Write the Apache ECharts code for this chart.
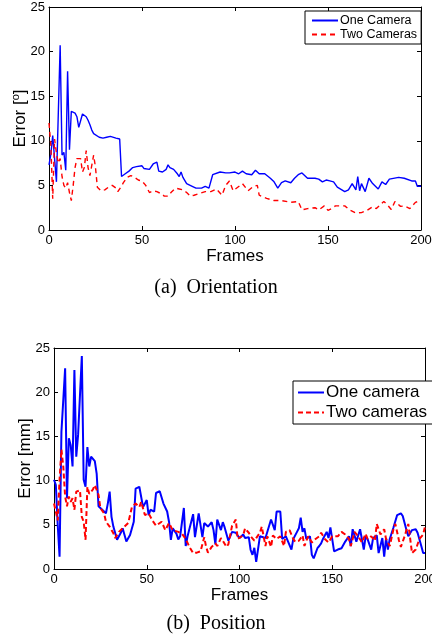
<!DOCTYPE html>
<html>
<head>
<meta charset="utf-8">
<script src="https://cdn.jsdelivr.net/npm/echarts@6/dist/echarts.min.js"></script>
<style>
  html, body { margin: 0; padding: 0; background: #fff; }
  #chart { width: 432px; height: 639px; }
</style>
</head>
<body>
<div id="chart"></div>
<script>
// (a) Orientation - one camera
var oriOneF = [0,1,2,3,4,5,6,7,8,9,10,11,12,13,14,15,16,17,18,19,20,21,22,23,24,25,27,29,30,31,33,34,36,38,39,40,41,43,45,47,48,50,51,52,54,56,57,58,59,61,63,64,65,67,69,70,71,72,74,77,79,82,84,86,87,88,89,92,95,97,100,102,104,106,109,111,113,116,119,121,123,125,127,130,132,134,136,139,143,145,147,149,151,153,155,159,161,163,165,166,167,168,170,172,174,177,179,181,183,188,191,195,197,198,200];
var oriOneV = [7.3,8.5,10.6,8.0,5.4,5.5,20.7,8.4,8.7,6.7,17.8,9.0,13.3,13.3,13.1,12.7,11.5,11.7,13.0,12.8,12.7,12.3,11.8,11.2,10.8,10.6,10.4,10.3,10.5,10.4,10.5,10.6,10.3,10.2,6.0,6.0,6.3,6.6,7.0,7.1,7.0,7.2,6.9,7.0,6.8,7.4,7.6,7.6,6.6,6.5,6.8,7.3,7.0,6.8,6.3,6.0,6.5,5.9,5.2,4.9,4.7,4.7,4.9,4.7,4.5,6.2,6.0,6.5,6.4,6.4,6.5,6.3,6.6,6.3,6.2,6.7,6.3,6.3,5.8,5.4,4.7,5.3,5.5,5.3,5.8,6.2,6.4,5.8,5.8,5.7,5.4,5.6,5.5,5.4,4.8,4.3,4.5,5.2,4.5,6.0,4.4,5.2,4.3,5.8,5.2,4.6,5.4,5.1,5.7,5.9,5.8,5.5,5.5,4.9,4.9];

// (a) Orientation - two cameras
var oriTwoF = [0,1,2,3,4,5,6,7,8,9,10,11,12,13,14,15,16,17,18,19,20,21,22,23,24,25,26,27,28,29,30,32,34,36,37,38,40,42,44,46,48,50,52,54,56,58,60,62,64,66,68,70,72,74,76,78,81,84,87,90,93,95,97,99,100,104,107,110,112,113,117,121,125,130,134,136,139,143,145,148,150,152,154,159,162,165,168,171,174,176,180,182,184,186,189,191,194,197,200];
var oriTwoV = [12.0,9.5,3.5,10.2,8.6,7.5,8.0,6.0,5.0,4.7,5.3,4.2,3.3,5.0,7.0,8.0,8.1,8.0,6.5,7.0,8.9,7.0,6.1,6.2,8.4,7.0,4.8,4.6,4.4,4.3,4.5,4.8,5.0,4.7,4.3,4.6,5.3,5.9,6.1,5.9,5.6,5.5,5.0,4.2,4.4,4.3,4.1,3.8,3.8,4.3,4.7,4.6,4.5,4.2,3.8,3.9,4.1,4.3,4.3,4.6,3.9,5.0,5.5,4.4,4.6,5.2,4.4,4.9,5.0,3.9,3.55,3.3,3.3,3.1,3.2,2.25,2.4,2.5,2.25,2.7,2.2,2.4,2.7,2.7,2.2,1.9,1.95,2.2,2.6,2.4,3.2,2.8,2.3,3.2,2.65,2.7,2.4,3.1,3.3];

// (b) Position - one camera
var posOneF = [0,1,2,3,4,5,6,7,8,9,10,11,12,13,14,15,16,17,18,19,20,21,22,23,24,26,28,29,30,31,32,34,36,37,39,41,43,44,46,48,50,51,52,54,55,57,59,61,62,63,64,66,67,68,70,71,72,75,76,78,80,81,82,83,85,86,87,88,90,91,92,94,95,96,98,99,100,102,103,105,106,107,108,109,111,112,114,115,117,119,120,122,123,125,126,128,129,131,132,133,134,135,136,138,139,140,142,143,144,145,147,148,149,150,151,153,155,157,159,160,161,163,164,165,167,168,169,171,172,174,175,177,178,179,180,181,183,185,187,188,190,191,193,195,196,198,199,200];
var posOneV = [10.1,9.5,5.0,1.4,15.5,15.5,22.7,8.0,14.8,14.0,11.6,22.5,12.7,15.2,15.0,24.1,10.1,9.3,13.8,11.6,12.7,12.7,12.2,10.8,7.1,6.7,6.3,7.4,8.75,5.9,4.8,3.3,4.1,4.6,3.1,3.85,5.35,9.1,9.3,7.0,7.8,6.1,6.7,6.5,8.6,8.8,7.4,6.5,5.35,3.3,4.6,4.0,3.35,3.7,6.9,2.6,3.7,6.2,3.6,6.3,3.6,5.2,5.3,4.8,5.3,4.4,2.8,5.6,4.4,5.3,4.7,3.2,3.7,4.2,4.1,4.0,3.5,3.9,3.5,3.6,2.15,1.6,2.4,0.8,3.7,3.7,3.5,3.7,5.6,4.4,6.5,6.5,3.4,3.7,3.5,2.2,3.4,4.2,4.6,5.8,4.2,4.6,3.4,3.7,1.6,1.2,2.35,2.6,2.9,3.4,4.2,3.5,4.7,4.9,2.0,2.2,2.35,3.1,3.7,2.6,4.5,3.1,2.9,4.5,2.2,3.7,3.4,2.2,3.5,3.8,1.8,3.5,1.4,3.5,2.2,3.4,4.7,6.1,6.3,6.0,4.4,3.7,4.4,4.5,4.1,2.6,1.8,1.8];

// (b) Position - two cameras
var posTwoF = [0,1,2,3,4,5,6,7,8,9,10,11,12,14,15,16,17,18,19,21,22,24,25,27,28,30,32,33,35,37,38,40,42,44,46,47,49,51,53,55,56,58,60,62,64,65,67,69,71,73,75,77,79,81,82,83,85,87,88,90,91,93,94,96,98,99,100,102,103,105,106,108,109,111,112,114,115,117,118,120,122,124,125,127,129,130,132,134,135,137,139,141,143,144,146,148,150,151,153,155,157,159,160,162,164,166,168,169,171,173,174,176,178,179,181,183,184,186,187,189,191,193,195,197,199,200];
var posTwoV = [7.4,6.5,5.5,10.1,13.5,11.6,8.2,7.1,8.2,7.6,8.0,6.7,8.75,8.9,5.9,5.35,3.3,9.3,8.5,9.0,9.5,8.4,6.9,6.3,5.35,4.8,4.05,3.5,4.2,4.6,4.4,5.2,7.0,7.4,7.0,7.6,6.1,6.3,5.5,4.9,5.0,5.35,4.4,5.2,4.4,4.2,4.2,4.0,3.4,2.5,1.8,1.85,2.0,3.6,2.5,1.85,2.5,2.9,2.6,3.5,3.2,2.5,2.8,4.9,5.6,3.4,3.5,3.8,4.6,4.1,3.7,3.2,3.5,4.1,4.8,2.6,3.7,2.5,3.8,3.4,3.7,2.6,4.2,4.4,3.4,3.1,3.2,3.8,2.6,3.7,3.0,3.4,3.7,4.1,3.4,3.0,3.7,3.5,3.7,4.2,3.9,3.4,2.6,4.2,3.7,3.0,4.0,3.4,3.7,3.2,5.1,3.9,4.5,3.4,2.6,4.5,5.1,3.2,2.5,3.7,5.1,1.8,2.2,3.4,3.9,4.8];

var xTicks = [0, 50, 100, 150, 200];
var yTicks = [0, 5, 10, 15, 20, 25];

function pairs(f, v) {
	var out = [];
	for (var i = 0; i < f.length; i++) out.push([f[i], v[i]]);
	return out;
}

var sans = 'Liberation Sans';

var chart = echarts.init(document.getElementById('chart'), null, { renderer: 'canvas' });

function xAx(grid, pos, opt) {
	var a = {
		type: 'value', gridIndex: grid, position: pos,
		min: xTicks[0], max: xTicks[xTicks.length - 1], interval: 50,
		axisLine: { show: true, onZero: false, lineStyle: { color: '#000', width: 1 } },
		axisTick: { show: true, inside: true, length: 4, lineStyle: { color: '#000' } },
		axisLabel: { show: pos == 'bottom', color: '#000', fontFamily: sans, fontSize: 13, margin: 4 },
		splitLine: { show: false }
	};
	if (pos == 'bottom') {
		a.name = 'Frames';
		a.nameLocation = 'middle';
		a.nameGap = opt.gap;
		a.nameTextStyle = { color: '#000', fontFamily: sans, fontSize: 17 };
	}
	return a;
}

function yAx(grid, pos, opt) {
	var a = {
		type: 'value', gridIndex: grid, position: pos,
		min: yTicks[0], max: yTicks[yTicks.length - 1], interval: 5,
		axisLine: { show: true, onZero: false, lineStyle: { color: '#000', width: 1 } },
		axisTick: { show: true, inside: true, length: 4, lineStyle: { color: '#000' } },
		axisLabel: { show: pos == 'left', color: '#000', fontFamily: sans, fontSize: 13, margin: 4 },
		splitLine: { show: false }
	};
	if (pos == 'left') {
		a.name = opt.name;
		a.nameLocation = 'middle';
		a.nameGap = opt.gap;
		a.nameMoveOverlap = false;
		a.nameTextStyle = {
			color: '#000', fontFamily: sans, fontSize: 17,
			rich: { sup: { fontFamily: sans, fontSize: 11, color: '#000', verticalAlign: 'bottom', padding: [0, 0, 9, 0] } }
		};
	}
	return a;
}

var option = {
	animation: false,
	backgroundColor: '#fff',
	grid: [
		{ left: 49, top: 7, width: 372, height: 223, outerBoundsMode: 'none' },
		{ left: 54, top: 348, width: 371, height: 221, outerBoundsMode: 'none' }
	],
	xAxis: [
		xAx(0, 'bottom', { gap: 17 }),
		xAx(0, 'top', {}),
		xAx(1, 'bottom', { gap: 16 }),
		xAx(1, 'top', {})
	],
	yAxis: [
		yAx(0, 'left', { gap: 19, name: 'Error [{sup|o}]' }),
		yAx(0, 'right', {}),
		yAx(1, 'left', { gap: 20, name: 'Error [mm]' }),
		yAx(1, 'right', {})
	],
	legend: [
		{
			data: ['One Camera', 'Two Cameras'],
			orient: 'vertical', left: 305, top: 11,
			itemWidth: 26, itemHeight: 12, itemGap: 1,
			padding: [3, 4, 3, 6],
			itemStyle: { opacity: 0 },
			borderColor: '#000', borderWidth: 1, backgroundColor: '#fff',
			textStyle: { color: '#000', fontFamily: sans, fontSize: 12.5, padding: [0, 0, 0, -3] }
		},
		{
			data: ['One camera', 'Two cameras'],
			orient: 'vertical', left: 293, top: 381,
			itemWidth: 26, itemHeight: 19, itemGap: 3,
			padding: [3, 24, 3, 4],
			itemStyle: { opacity: 0 },
			borderColor: '#000', borderWidth: 1, backgroundColor: '#fff',
			textStyle: { color: '#000', fontFamily: sans, fontSize: 17, padding: [0, 0, 0, -3] }
		}
	],
	series: [
		{
			name: 'One Camera', type: 'line', xAxisIndex: 0, yAxisIndex: 0,
			symbol: 'none', color: '#0000ff',
			lineStyle: { color: '#0000ff', width: 1.4 },
			data: pairs(oriOneF, oriOneV)
		},
		{
			name: 'Two Cameras', type: 'line', xAxisIndex: 0, yAxisIndex: 0,
			symbol: 'none', color: '#ff0000',
			lineStyle: { color: '#ff0000', width: 1.4, type: [5, 4] },
			data: pairs(oriTwoF, oriTwoV)
		},
		{
			name: 'One camera', type: 'line', xAxisIndex: 2, yAxisIndex: 2,
			symbol: 'none', color: '#0000ff',
			lineStyle: { color: '#0000ff', width: 2 },
			data: pairs(posOneF, posOneV)
		},
		{
			name: 'Two cameras', type: 'line', xAxisIndex: 2, yAxisIndex: 2,
			symbol: 'none', color: '#ff0000',
			lineStyle: { color: '#ff0000', width: 2, type: [5, 3] },
			data: pairs(posTwoF, posTwoV)
		}
	],
	graphic: [
		{
			type: 'text', left: 'center', top: 278,
			style: { text: '(a)  Orientation', fill: '#000', font: '20px "Liberation Serif"' }
		},
		{
			type: 'text', left: 'center', top: 614,
			style: { text: '(b)  Position', fill: '#000', font: '20px "Liberation Serif"' }
		}
	]
};

chart.setOption(option);
</script>
</body>
</html>
